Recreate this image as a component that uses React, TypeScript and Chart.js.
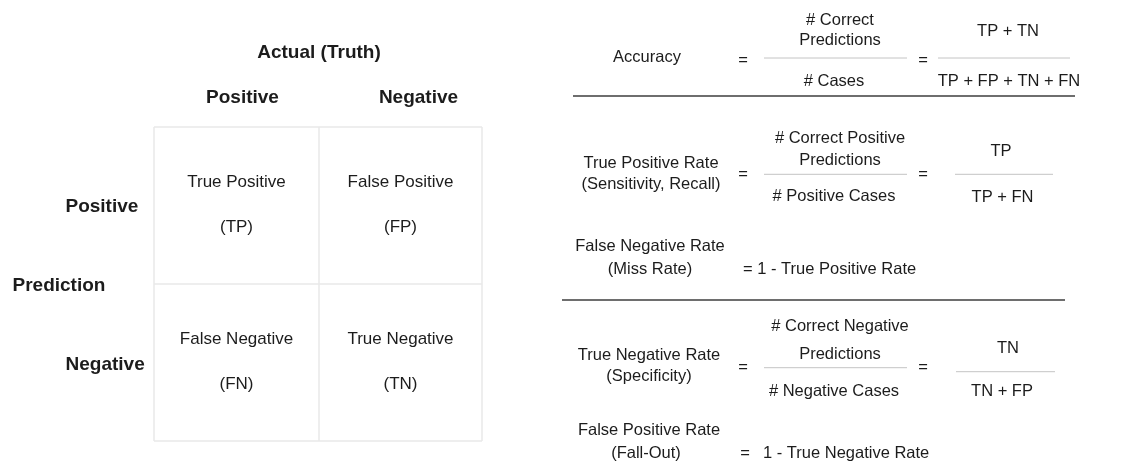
import React, { useEffect, useRef } from "react";
import { Chart, registerables } from "chart.js";

Chart.register(...registerables);

// ---- data ----
const actualClasses = ["Positive", "Negative"];
const predictedClasses = ["Positive", "Negative"];
const cellNames = [
  ["True Positive", "False Positive"],
  ["False Negative", "True Negative"],
];
const cellAbbr = [
  ["(TP)", "(FP)"],
  ["(FN)", "(TN)"],
];
const axisTitles = ["Actual (Truth)", "Prediction"];

const metricLabels = [
  ["Accuracy"],
  ["True Positive Rate", "(Sensitivity, Recall)"],
  ["False Negative Rate", "(Miss Rate)"],
  ["True Negative Rate", "(Specificity)"],
  ["False Positive Rate", "(Fall-Out)"],
];
const wordNumerators = [["# Correct", "Predictions"], ["# Correct Positive", "Predictions"], null, ["# Correct Negative", "Predictions"], null];
const wordDenominators = ["# Cases", "# Positive Cases", null, "# Negative Cases", null];
const symNumerators = ["TP + TN", "TP", null, "TN", null];
const symDenominators = ["TP + FP + TN + FN", "TP + FN", null, "TN + FP", null];
const complements = [null, null, "= 1 - True Positive Rate", null, "1 - True Negative Rate"];

// ---- layout (positions in canvas units via the scales) ----
const W = 1138;
const H = 468;
const gridX = [154, 319, 482];
const gridY = [127, 284, 441];
const colHeaderY = 98;
const titleX = 319;
const titleY = 53;
const rowLabelX = 65.5;
const rowLabelY = [207, 365];
const predictionLabel = { x: 12.5, y: 286 };
const cellTextDy = [-23, 22];

const labelX = [647, 651, 650, 649, 649];
const labelY = [[57.7], [163.3, 184.3], [246.7, 269], [355, 376.7], [430, 453.3]];
const eqY = [60, 174, 0, 367, 0];
const fracLineY = [58, 174.3, 0, 367.7, 0];
const wordNumY = [[20, 40.7], [138.3, 160], null, [326.7, 354], null];
const wordDenY = [81, 196.7, 0, 391, 0];
const symNumY = [31.7, 151, 0, 348, 0];
const symDenY = [81, 197.7, 0, 391, 0];
const symNumX = [1008, 1001, 0, 1008, 0];
const symDenX = [1009, 1002.5, 0, 1002, 0];
const symLine = [[938, 1070, 58], [955, 1053, 174.3], null, [956, 1055, 371.7], null];
const complementPos = [null, null, [743, 269], null, [763, 453]];
const fplEq = [745, 453];
const separators = [[573, 1075, 96], [562, 1065, 300]];

const FONT = "'Liberation Sans', Arial, Helvetica, sans-serif";
const TEXT = "#1c1c1c";

const diagramPlugin = {
  id: "diagram",
  afterDraw(chart: any) {
    const ctx = chart.ctx as CanvasRenderingContext2D;
    const xs = chart.scales.x;
    const ys = chart.scales.y;
    const X = (v: number) => xs.getPixelForValue(v);
    const Y = (v: number) => ys.getPixelForValue(v);
    const txt = (s: string, x: number, y: number, size: number, bold = false, align: CanvasTextAlign = "center") => {
      ctx.font = `${bold ? "bold " : ""}${size}px ${FONT}`;
      ctx.fillStyle = TEXT;
      ctx.textAlign = align;
      ctx.textBaseline = "middle";
      ctx.fillText(s, X(x), Y(y));
    };
    const line = (x1: number, x2: number, y: number, color: string, w: number) => {
      ctx.beginPath();
      ctx.strokeStyle = color;
      ctx.lineWidth = w;
      ctx.moveTo(X(x1), Y(y));
      ctx.lineTo(X(x2), Y(y));
      ctx.stroke();
    };
    ctx.save();

    // matrix grid
    ctx.strokeStyle = "#e8e8e8";
    ctx.lineWidth = 1.5;
    gridX.forEach((gx) => {
      ctx.beginPath();
      ctx.moveTo(X(gx), Y(gridY[0]));
      ctx.lineTo(X(gx), Y(gridY[2]));
      ctx.stroke();
    });
    gridY.forEach((gy) => {
      ctx.beginPath();
      ctx.moveTo(X(gridX[0]), Y(gy));
      ctx.lineTo(X(gridX[2]), Y(gy));
      ctx.stroke();
    });

    // headers
    txt(axisTitles[0], titleX, titleY, 19, true);
    actualClasses.forEach((c, i) => {
      const cx = (gridX[i] + gridX[i + 1]) / 2 + (i === 0 ? 6 : 18);
      txt(c, cx, colHeaderY, 19, true);
    });
    predictedClasses.forEach((c, i) => txt(c, rowLabelX, rowLabelY[i], 19, true, "left"));
    txt(axisTitles[1], predictionLabel.x, predictionLabel.y, 19, true, "left");

    // cells
    for (let r = 0; r < 2; r++) {
      for (let c = 0; c < 2; c++) {
        const cx = (gridX[c] + gridX[c + 1]) / 2;
        const cy = (gridY[r] + gridY[r + 1]) / 2;
        txt(cellNames[r][c], cx, cy + cellTextDy[0], 17);
        txt(cellAbbr[r][c], cx, cy + cellTextDy[1], 17);
      }
    }

    // metrics
    const fs = 16.5;
    metricLabels.forEach((lines, i) => {
      lines.forEach((l, j) => txt(l, i === 4 && j === 1 ? 646 : labelX[i], labelY[i][j], fs));
      const wn = wordNumerators[i];
      if (wn) {
        txt("=", 743, eqY[i], fs);
        wn.forEach((l, j) => txt(l, 840, (wordNumY[i] as number[])[j], fs));
        txt(wordDenominators[i] as string, 834, wordDenY[i], fs);
        line(764, 907, fracLineY[i], "#c4c4c4", 1);
        txt("=", 923, eqY[i], fs);
        txt(symNumerators[i] as string, symNumX[i], symNumY[i], fs);
        txt(symDenominators[i] as string, symDenX[i], symDenY[i], fs);
        const sl = symLine[i] as number[];
        line(sl[0], sl[1], sl[2], "#c4c4c4", 1);
      }
      const comp = complements[i];
      if (comp) {
        const p = complementPos[i] as number[];
        txt(comp, p[0], p[1], fs, false, "left");
        if (i === 4) txt("=", fplEq[0], fplEq[1], fs);
      }
    });

    separators.forEach((s) => line(s[0], s[1], s[2], "#6e6e6e", 2));
    ctx.restore();
  },
};

export default function App() {
  const ref = useRef<HTMLCanvasElement | null>(null);
  useEffect(() => {
    document.body.style.margin = "0";
    const chart = new Chart(ref.current as HTMLCanvasElement, {
      type: "scatter",
      data: { datasets: [{ data: [], pointRadius: 0 }] },
      options: {
        animation: false,
        responsive: false,
        layout: { padding: 0 },
        plugins: { legend: { display: false }, tooltip: { enabled: false } },
        scales: {
          x: { type: "linear", min: 0, max: W, display: false },
          y: { type: "linear", min: 0, max: H, reverse: true, display: false },
        },
      },
      plugins: [diagramPlugin],
    });
    return () => chart.destroy();
  }, []);
  return (
    <div style={{ width: W, height: H, background: "#fff" }}>
      <canvas ref={ref} width={W} height={H} />
    </div>
  );
}
